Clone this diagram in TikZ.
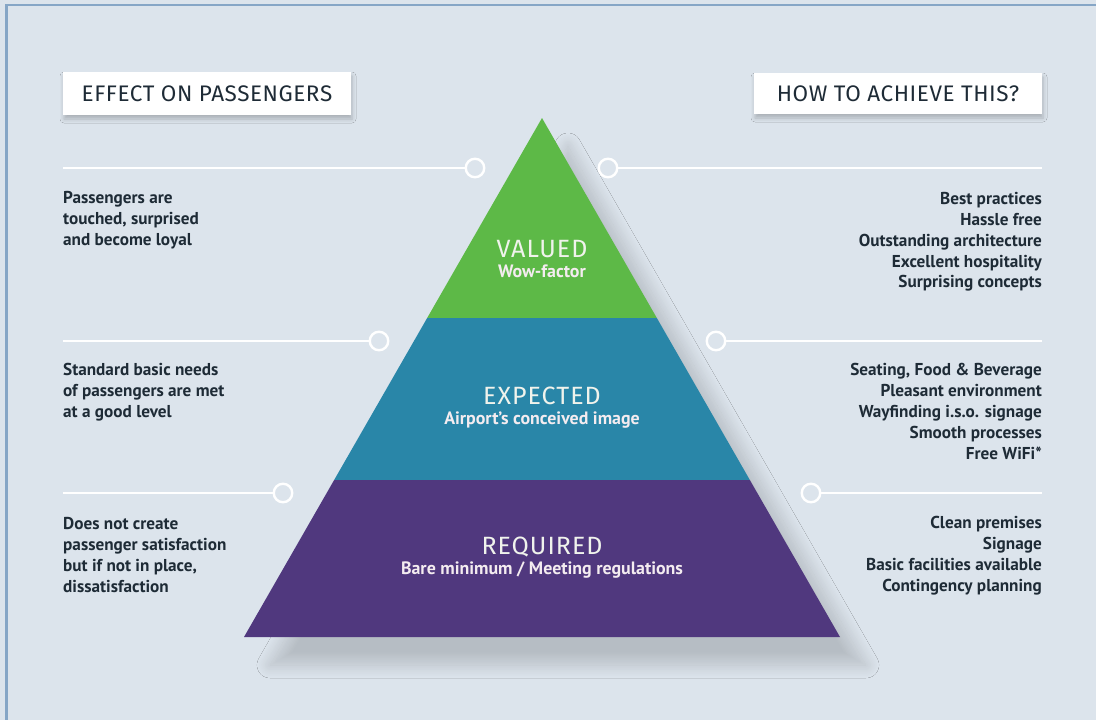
\documentclass[tikz,border=0pt]{standalone}
\usepackage{fontspec}
\setmainfont{PT Sans}
\newfontfamily\hdrfont{Fira Sans}[LetterSpace=2.5]
\newfontfamily\ttlfont{Fira Sans}[LetterSpace=4]
\usetikzlibrary{calc,shadows.blur}
\definecolor{bg}{HTML}{DCE4EC}
\definecolor{framec}{HTML}{86A6C6}
\definecolor{txt}{HTML}{1E2B36}
\definecolor{pgreen}{HTML}{5DB947}
\definecolor{pblue}{HTML}{2986A8}
\definecolor{ppurple}{HTML}{50387E}
\definecolor{ttl}{HTML}{F0F3EC}
\definecolor{sub}{HTML}{F4ECF0}
\begin{document}
\begin{tikzpicture}[x=1pt,y=-1pt,
  hdr/.style={fill=white, text=txt, font=\hdrfont\fontsize{22.5}{26}\selectfont,
    inner sep=0pt, minimum width=288pt, minimum height=43pt,
    blur shadow={shadow xshift=1pt, shadow yshift=-4pt, shadow blur radius=4pt, shadow opacity=22}},
  bodyf/.style={font=\bfseries\fontsize{17.2}{20.9}\selectfont, text=txt, inner sep=0pt},
  ltxt/.style={bodyf, anchor=north west, align=left},
  rtxt/.style={bodyf, anchor=north east, align=right},
  conn/.style={draw=white, line width=2.6pt},
  dot/.style={circle, draw=white, line width=2.4pt, fill=bg, minimum size=18.5pt, inner sep=0pt},
  title/.style={font=\ttlfont\fontsize{25}{28}\selectfont, text=ttl, anchor=base, inner sep=0pt},
  subtitle/.style={font=\bfseries\fontsize{17.9}{20}\selectfont, text=sub, anchor=base, inner sep=0pt}
]
\useasboundingbox (0,0) rectangle (1096,720);
\fill[bg] (0,0) rectangle (1096,720);
\draw[framec, line width=2.2pt] (6.5,720) -- (6.5,5) -- (1096,5);

% pyramid geometry
\coordinate (apex) at (542,118);
\coordinate (bl) at (244,637);
\coordinate (br) at (840,637);
\coordinate (g1l) at ($(apex)!0.38536!(bl)$);
\coordinate (g1r) at ($(apex)!0.38536!(br)$);
\coordinate (g2l) at ($(apex)!0.69750!(bl)$);
\coordinate (g2r) at ($(apex)!0.69750!(br)$);

% shadow
\path[blur shadow={shadow xshift=26pt, shadow yshift=-28pt, shadow blur radius=13pt, shadow opacity=17, shadow blur steps=20}]
  (apex) -- (br) -- (bl) -- cycle;

% bands
\fill[pgreen] (apex) -- (g1r) -- (g1l) -- cycle;
\fill[pblue] (g1l) -- (g1r) -- (g2r) -- (g2l) -- cycle;
\fill[ppurple] (g2l) -- (g2r) -- (br) -- (bl) -- cycle;

% pyramid labels
\node[title] (valued) at (542,257) {VALUED};
\node[subtitle] (wow) at (542,277) {Wow-factor};
\node[title] (expected) at (542,404) {EXPECTED};
\node[subtitle] (image) at (542,424) {Airport’s conceived image};
\node[title] (required) at (542,554.5) {REQUIRED};
\node[subtitle] (bare) at (542,574) {Bare minimum / Meeting regulations};

% headers
\node[hdr] (h1) at (207,93.5) {EFFECT ON PASSENGERS};
\node[hdr, minimum height=41pt] (h2) at (898,93.5) {HOW TO ACHIEVE THIS?};

% connector lines with circles
\node[dot] (l1) at (475,168) {};
\node[dot] (l2) at (379,341) {};
\node[dot] (l3) at (283,493) {};
\node[dot] (r1) at (608,168) {};
\node[dot] (r2) at (716,341) {};
\node[dot] (r3) at (811,493) {};
\coordinate (l1s) at (63,168);
\coordinate (l2s) at (63,341);
\coordinate (l3s) at (63,493);
\coordinate (r1e) at (1042,168);
\coordinate (r2e) at (1042,341);
\coordinate (r3e) at (1042,493);
\draw[conn] (l1s) -- (l1.west);
\draw[conn] (l2s) -- (l2.west);
\draw[conn] (l3s) -- (l3.west);
\draw[conn] (r1.east) -- (r1e);
\draw[conn] (r2.east) -- (r2e);
\draw[conn] (r3.east) -- (r3e);

% left texts
\node[ltxt] (eff1) at (63,189) {\strut Passengers are\\touched, surprised\\and become loyal};
\node[ltxt] (eff2) at (63,361) {\strut Standard basic needs\\of passengers are met\\at a good level};
\node[ltxt] (eff3) at (63,515) {\strut Does not create\\passenger satisfaction\\but if not in place,\\dissatisfaction};

% right texts
\node[rtxt] (how1) at (1042,189.5) {\strut Best practices\\Hassle free\\Outstanding architecture\\Excellent hospitality\\Surprising concepts};
\node[rtxt] (how2) at (1042,361) {\strut Seating, Food \& Beverage\\Pleasant environment\\Wayfinding i.s.o. signage\\Smooth processes\\Free WiFi*};
\node[rtxt] (how3) at (1042,514) {\strut Clean premises\\Signage\\Basic facilities available\\Contingency planning};
\end{tikzpicture}
\end{document}
